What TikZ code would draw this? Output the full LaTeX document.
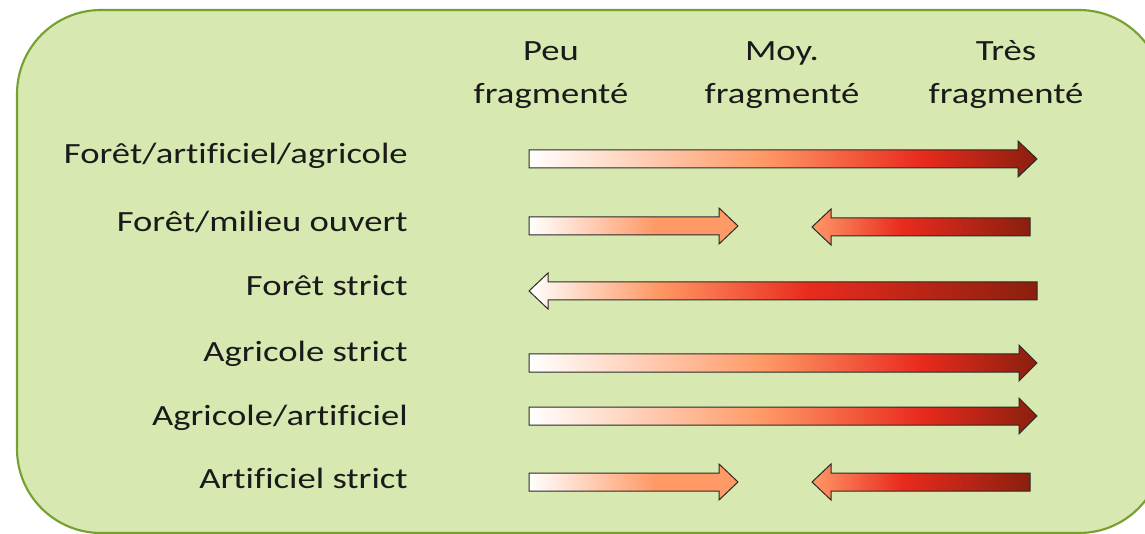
\documentclass[tikz,border=0pt]{standalone}
\usepackage{fontspec}
\setmainfont{Carlito}[FakeStretch=1.25, Ligatures=NoCommon]
\definecolor{bgfill}{HTML}{D7E9B0}
\definecolor{bgline}{HTML}{76A02F}
\definecolor{cOr}{HTML}{FF9966}
\definecolor{cRed}{HTML}{E92B1E}
\definecolor{cDk}{HTML}{8A1F0E}
\definecolor{txt}{HTML}{1A1A1A}
\definecolor{arrline}{HTML}{2A2A2A}
\pgfdeclarehorizontalshading{sA}{100bp}{color(0bp)=(white); color(25bp)=(white); color(48bp)=(cOr); color(63.5bp)=(cRed); color(75bp)=(cDk); color(100bp)=(cDk)}
\pgfdeclarehorizontalshading{sB}{100bp}{color(0bp)=(white); color(25bp)=(white); color(55bp)=(cOr); color(100bp)=(cOr)}
\pgfdeclarehorizontalshading{sC}{100bp}{color(0bp)=(cOr); color(25bp)=(cOr); color(45.5bp)=(cRed); color(75bp)=(cDk); color(100bp)=(cDk)}
\pgfdeclarehorizontalshading{sD}{100bp}{color(0bp)=(white); color(25bp)=(white); color(37.5bp)=(cOr); color(52.5bp)=(cRed); color(75bp)=(cDk); color(100bp)=(cDk)}
\tikzset{
  lbl/.style={anchor=base east, inner sep=0pt, text=txt, font=\fontsize{22}{26}\selectfont},
  hdr/.style={anchor=base, inner sep=0pt, text=txt, font=\fontsize{22}{26}\selectfont},
  blockarr/.style={draw=arrline, line width=0.75pt, line join=miter}
}
% right-pointing block arrow: #1 shading, #2 x-left, #3 x-headbase, #4 x-tip, #5 y-centre
\newcommand{\rarrow}[5]{%
  \shadedraw[blockarr, shading=#1] (#2,#5-9) -- (#3,#5-9) -- (#3,#5-18) -- (#4,#5) -- (#3,#5+18) -- (#3,#5+9) -- (#2,#5+9) -- cycle;}
% left-pointing block arrow: #1 shading, #2 x-tip, #3 x-headbase, #4 x-right, #5 y-centre
\newcommand{\larrow}[5]{%
  \shadedraw[blockarr, shading=#1] (#2,#5) -- (#3,#5-18) -- (#3,#5-9) -- (#4,#5-9) -- (#4,#5+9) -- (#3,#5+9) -- (#3,#5+18) -- cycle;}
\begin{document}
\begin{tikzpicture}[x=0.75pt, y=-0.75pt]
\useasboundingbox (0,0) rectangle (1145,534);
\clip (0,0) rectangle (1145,534);
\draw[fill=bgfill, draw=bgline, line width=1.6pt, rounded corners=63pt] (17,10) rectangle (1163,533);

% headers
\node[hdr] (h1a) at (551,61) {Peu};
\node[hdr] (h1b) at (551,104) {fragmenté};
\node[hdr] (h2a) at (782,61) {Moy.};
\node[hdr] (h2b) at (782,104) {fragmenté};
\node[hdr] (h3a) at (1006,61) {Très};
\node[hdr] (h3b) at (1006,104) {fragmenté};

% row labels
\node[lbl] (r1) at (408,164) {Forêt/artificiel/agricole};
\node[lbl] (r2) at (408,232) {Forêt/milieu ouvert};
\node[lbl] (r3) at (408,296) {Forêt strict};
\node[lbl] (r4) at (408,361) {Agricole strict};
\node[lbl] (r5) at (408,425) {Agricole/artificiel};
\node[lbl] (r6) at (408,488) {Artificiel strict};

% arrows
\rarrow{sA}{529}{1018}{1037}{159}
\rarrow{sB}{529}{719}{738}{226}
\larrow{sC}{812}{831}{1030}{227}
\larrow{sD}{529}{548}{1037}{291}
\rarrow{sA}{529}{1019}{1037}{363}
\rarrow{sA}{529}{1019}{1037}{416}
\rarrow{sB}{529}{719}{738}{482}
\larrow{sC}{812}{831}{1030}{482}
\end{tikzpicture}
\end{document}
